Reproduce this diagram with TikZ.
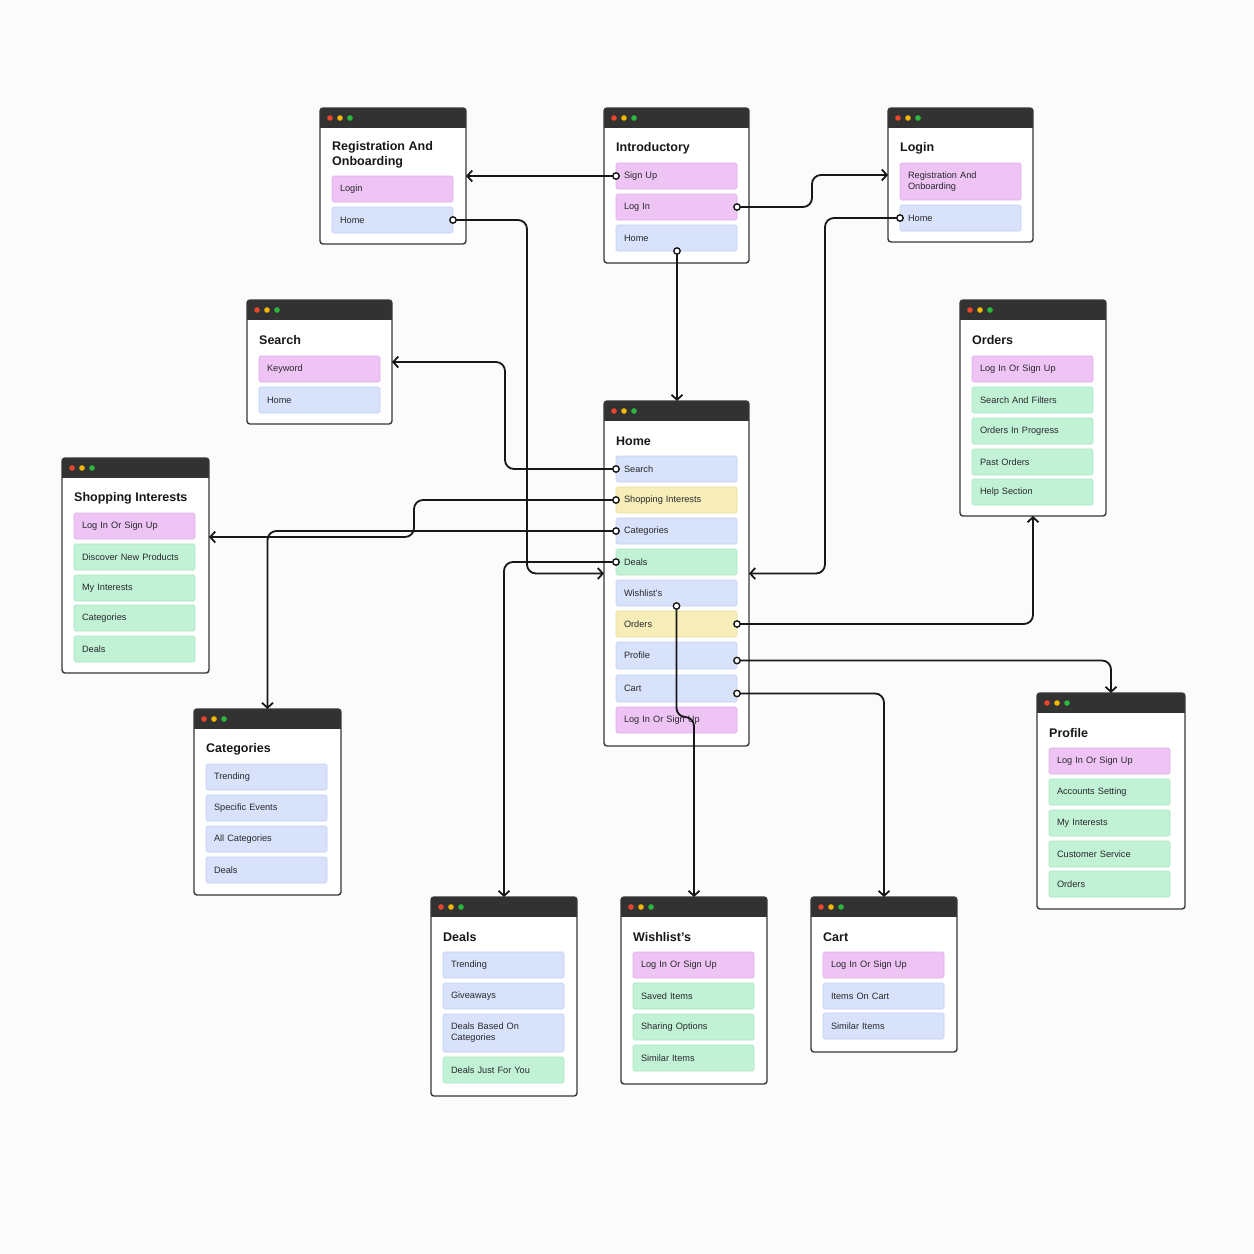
\documentclass[tikz,border=0pt]{standalone}
\usepackage{fontspec}
\setmainfont{Liberation Sans}
\usetikzlibrary{positioning, arrows.meta}
\definecolor{paper}{RGB}{251,251,251}
\definecolor{inkblack}{RGB}{24,24,24}
\definecolor{inkgray}{RGB}{40,40,44}
\definecolor{framegray}{RGB}{55,55,55}
\definecolor{barblack}{RGB}{50,50,50}
\definecolor{dotred}{RGB}{232,70,44}
\definecolor{dotyellow}{RGB}{242,183,5}
\definecolor{dotgreen}{RGB}{45,184,61}
\definecolor{pinkfill}{RGB}{238,196,244}
\definecolor{pinkline}{RGB}{224,176,238}
\definecolor{bluefill}{RGB}{216,226,251}
\definecolor{blueline}{RGB}{195,208,245}
\definecolor{yellowfill}{RGB}{247,237,184}
\definecolor{yellowline}{RGB}{235,221,150}
\definecolor{greenfill}{RGB}{194,242,214}
\definecolor{greenline}{RGB}{168,230,194}

\tikzset{
  window/.style={draw=framegray, line width=1.4pt, fill=white, rounded corners=3pt,
    anchor=north west, inner sep=0pt, outer sep=0pt,
    path picture={
      \fill[barblack, sharp corners] (path picture bounding box.north west)
        rectangle ([yshift=-20pt]path picture bounding box.north east);
      \fill[dotred] ([xshift=10pt,yshift=-10pt]path picture bounding box.north west) circle (2.8pt);
      \fill[dotyellow] ([xshift=20pt,yshift=-10pt]path picture bounding box.north west) circle (2.8pt);
      \fill[dotgreen] ([xshift=30pt,yshift=-10pt]path picture bounding box.north west) circle (2.8pt);
    }},
  ttl/.style={anchor=west, inner sep=0pt, align=left, text=inkblack,
    font=\fontsize{12.5}{14.5}\selectfont\bfseries},
  itm/.style={anchor=north west, text width=105pt, inner xsep=8pt, inner ysep=0pt,
    minimum height=26pt, align=left, text=inkgray, rounded corners=1.5pt,
    line width=0.6pt, outer sep=0pt, font=\fontsize{9.2}{11}\selectfont},
  itmpink/.style={itm, fill=pinkfill, draw=pinkline},
  itmblue/.style={itm, fill=bluefill, draw=blueline},
  itmyellow/.style={itm, fill=yellowfill, draw=yellowline},
  itmgreen/.style={itm, fill=greenfill, draw=greenline},
  link/.style={draw=inkblack, line width=1.8pt, rounded corners=9pt,
    -{Straight Barb[length=5pt,width=11pt]}},
  pin/.style={draw=inkblack, fill=white, line width=1.4pt}
}

\begin{document}
\begin{tikzpicture}[x=1pt, y=-1pt]
            \useasboundingbox (0,0) rectangle (1254,1254);
            \fill[paper] (0,0) rectangle (1254,1254);

            % Ventanas (marco, barra y puntos)
            \node[window, minimum width=146pt, minimum height=136pt] (reg) at (320,108) {};
            \node[window, minimum width=145pt, minimum height=155pt] (intro) at (604,108) {};
            \node[window, minimum width=145pt, minimum height=134pt] (login) at (888,108) {};
            \node[window, minimum width=145pt, minimum height=124pt] (search) at (247,300) {};
            \node[window, minimum width=146pt, minimum height=216pt] (orders) at (960,300) {};
            \node[window, minimum width=145pt, minimum height=345pt] (home) at (604,401) {};
            \node[window, minimum width=147pt, minimum height=215pt] (shop) at (62,458) {};
            \node[window, minimum width=147pt, minimum height=186pt] (cat) at (194,709) {};
            \node[window, minimum width=148pt, minimum height=216pt] (profile) at (1037,693) {};
            \node[window, minimum width=146pt, minimum height=199pt] (deals) at (431,897) {};
            \node[window, minimum width=146pt, minimum height=187pt] (wish) at (621,897) {};
            \node[window, minimum width=146pt, minimum height=155pt] (cart) at (811,897) {};

            % Registro
            \node[ttl] (reg-title) at (332,155) {Registration And\\Onboarding};
            \node[itmpink] (reg-login) at (332,176) {Login};
            \node[itmblue] (reg-home) at (332,207) {Home};

            % Introducción
            \node[ttl] (intro-title) at (616,148) {Introductory};
            \node[itmpink] (intro-signup) at (616,163) {Sign Up};
            \node[itmpink] (intro-login) at (616,194) {Log In};
            \node[itmblue] (intro-home) at (616,225) {Home};

            % Login
            \node[ttl] (login-title) at (900,148) {Login};
            \node[itmpink, minimum height=37pt] (login-reg) at (900,163) {Registration And\\Onboarding};
            \node[itmblue] (login-home) at (900,205) {Home};

            % Búsqueda
            \node[ttl] (search-title) at (259,340.5) {Search};
            \node[itmpink] (search-key) at (259,356) {Keyword};
            \node[itmblue] (search-home) at (259,387) {Home};

            % Pedidos
            \node[ttl] (orders-title) at (972,340.5) {Orders};
            \node[itmpink] (orders-log) at (972,356) {Log In Or Sign Up};
            \node[itmgreen] (orders-filter) at (972,387) {Search And Filters};
            \node[itmgreen] (orders-prog) at (972,418) {Orders In Progress};
            \node[itmgreen] (orders-past) at (972,449) {Past Orders};
            \node[itmgreen] (orders-help) at (972,479) {Help Section};

            % Inicio (pantalla central)
            \node[ttl] (home-title) at (616,441) {Home};
            \node[itmblue] (home-search) at (616,456) {Search};
            \node[itmyellow] (home-shop) at (616,487) {Shopping Interests};
            \node[itmblue] (home-cat) at (616,518) {Categories};
            \node[itmgreen] (home-deals) at (616,549) {Deals};
            \node[itmblue] (home-wish) at (616,580) {Wishlist's};
            \node[itmyellow] (home-orders) at (616,611) {Orders};
            \node[itmblue, minimum height=27pt] (home-profile) at (616,642) {Profile};
            \node[itmblue, minimum height=27pt] (home-cart) at (616,675) {Cart};
            \node[itmpink] (home-log) at (616,707) {Log In Or Sign Up};

            % Intereses
            \node[ttl] (shop-title) at (74,498) {Shopping Interests};
            \node[itmpink] (shop-log) at (74,513) {Log In Or Sign Up};
            \node[itmgreen] (shop-new) at (74,544) {Discover New Products};
            \node[itmgreen] (shop-mine) at (74,575) {My Interests};
            \node[itmgreen] (shop-cat) at (74,605) {Categories};
            \node[itmgreen] (shop-deals) at (74,636) {Deals};

            % Categorías
            \node[ttl] (cat-title) at (206,749) {Categories};
            \node[itmblue] (cat-trend) at (206,764) {Trending};
            \node[itmblue] (cat-events) at (206,795) {Specific Events};
            \node[itmblue] (cat-all) at (206,826) {All Categories};
            \node[itmblue] (cat-deals) at (206,857) {Deals};

            % Perfil
            \node[ttl] (profile-title) at (1049,733) {Profile};
            \node[itmpink] (profile-log) at (1049,748) {Log In Or Sign Up};
            \node[itmgreen] (profile-acc) at (1049,779) {Accounts Setting};
            \node[itmgreen] (profile-mine) at (1049,810) {My Interests};
            \node[itmgreen] (profile-serv) at (1049,841) {Customer Service};
            \node[itmgreen] (profile-orders) at (1049,871) {Orders};

            % Ofertas
            \node[ttl] (deals-title) at (443,937) {Deals};
            \node[itmblue] (deals-trend) at (443,952) {Trending};
            \node[itmblue] (deals-give) at (443,983) {Giveaways};
            \node[itmblue, minimum height=38pt] (deals-cat) at (443,1014) {Deals Based On\\Categories};
            \node[itmgreen] (deals-you) at (443,1057) {Deals Just For You};

            % Lista de deseos
            \node[ttl] (wish-title) at (633,937) {Wishlist's};
            \node[itmpink] (wish-log) at (633,952) {Log In Or Sign Up};
            \node[itmgreen] (wish-saved) at (633,983) {Saved Items};
            \node[itmgreen] (wish-share) at (633,1014) {Sharing Options};
            \node[itmgreen] (wish-similar) at (633,1045) {Similar Items};

            % Carrito
            \node[ttl] (cart-title) at (823,937) {Cart};
            \node[itmpink] (cart-log) at (823,952) {Log In Or Sign Up};
            \node[itmblue] (cart-items) at (823,983) {Items On Cart};
            \node[itmblue] (cart-similar) at (823,1013) {Similar Items};

            % Conexiones de la parte superior
            \draw[link] (intro-signup.west) -- (intro-signup.west -| reg.east);
            \draw[link] (intro-login.east) -- ++(75,0) |- (login.west);
            \draw[link] ([xshift=0.5pt]intro-home.south) -- ([xshift=0.5pt]home.north);
            \draw[link] (login-home.west) -- ++(-75,0) |- (home.east);
            \draw[link] (reg-home.east) -- ++(74,0) |- (home.west);

            % Conexiones desde Home (izquierda)
            \draw[link] (home-search.west) -- ++(-111,0) |- (search.east);
            \draw[link] (home-shop.west) -- ++(-202,0) |- ([yshift=-79pt]shop.north east);
            \draw[link] (home-cat.west) -| (cat.north);
            \draw[link] (home-deals.west) -| (deals.north);

            % Conexiones desde Home (derecha y abajo)
            \draw[link] (home-wish.south) -- ++(0,111) -| (wish.north);
            \draw[link] (home-orders.east) -| (orders.south);
            \draw[link] ([yshift=-5pt]home-profile.east) -| (profile.north);
            \draw[link] ([yshift=-5pt]home-cart.east) -| (cart.north);

            % Puntos de origen
            \draw[pin] (intro-signup.west) circle (3.2pt);
            \draw[pin] (intro-login.east) circle (3.2pt);
            \draw[pin] ([xshift=0.5pt]intro-home.south) circle (3.2pt);
            \draw[pin] (login-home.west) circle (3.2pt);
            \draw[pin] (reg-home.east) circle (3.2pt);
            \draw[pin] (home-search.west) circle (3.2pt);
            \draw[pin] (home-shop.west) circle (3.2pt);
            \draw[pin] (home-cat.west) circle (3.2pt);
            \draw[pin] (home-deals.west) circle (3.2pt);
            \draw[pin] (home-wish.south) circle (3.2pt);
            \draw[pin] (home-orders.east) circle (3.2pt);
            \draw[pin] ([yshift=-5pt]home-profile.east) circle (3.2pt);
            \draw[pin] ([yshift=-5pt]home-cart.east) circle (3.2pt);
        \end{tikzpicture}
\end{document}
